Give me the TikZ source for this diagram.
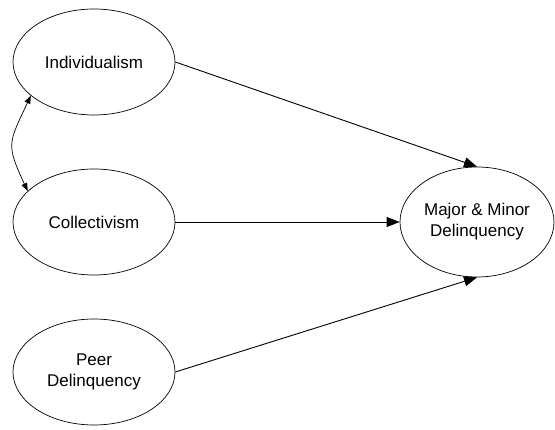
\documentclass[tikz,border=0pt]{standalone}
\usepackage{fontspec}
\setmainfont{Liberation Sans}
\usetikzlibrary{shapes.geometric,arrows.meta}
\begin{document}
\begin{tikzpicture}[x=1pt,y=-1pt,
  var/.style={draw,ellipse,line width=0.7pt,inner sep=0pt,minimum width=162pt,minimum height=106pt,align=center,font=\fontsize{17}{21}\selectfont},
  path/.style={line width=0.9pt,-{Triangle[length=13pt,width=10pt]}},
  cov/.style={line width=0.7pt,{Triangle[length=8pt,width=6pt]}-{Triangle[length=8pt,width=6pt]}}]
\useasboundingbox (0,0) rectangle (555,430);
\node[var] (ind) at (94,62) {Individualism};
\node[var] (col) at (94,222) {Collectivism};
\node[var] (peer) at (94,372) {Peer\\Delinquency};
\node[var,minimum width=154pt,minimum height=110pt] (maj) at (477,222) {Major \& Minor\\Delinquency};
\draw[path] (ind.east) -- (maj.north);
\draw[path] (col.east) -- (maj.west);
\draw[path] (peer.east) -- (maj.south);
\draw[cov] (ind.208) to[out=245,in=115,looseness=1.4] (col.155);
\end{tikzpicture}
\end{document}
